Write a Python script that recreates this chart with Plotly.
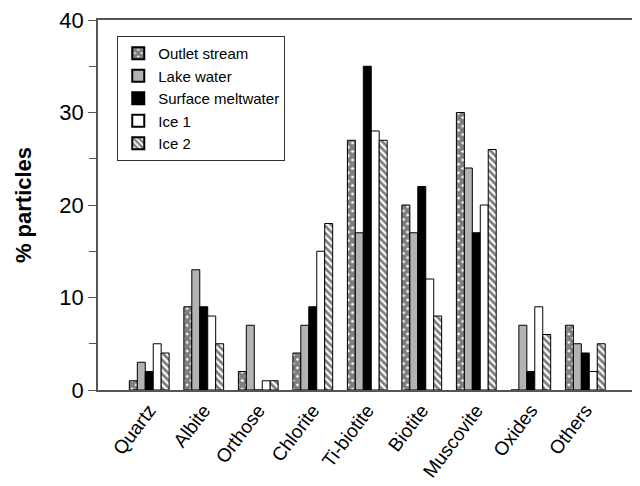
import plotly.graph_objects as go

categories = ["Quartz", "Albite", "Orthose", "Chlorite", "Ti-biotite", "Biotite", "Muscovite", "Oxides", "Others"]
outlet_stream = [1, 9, 2, 4, 27, 20, 30, 0, 7]
lake_water = [3, 13, 7, 7, 17, 17, 24, 7, 5]
surface_meltwater = [2, 9, 0, 9, 35, 22, 17, 2, 4]
ice_1 = [5, 8, 1, 15, 28, 12, 20, 9, 2]
ice_2 = [4, 5, 1, 18, 27, 8, 26, 6, 5]
y_ticks = [0, 10, 20, 30, 40]

FONT = "Arial, Liberation Sans, sans-serif"
line = dict(color="black", width=1)

fig = go.Figure()
fig.add_trace(go.Bar(x=categories, y=outlet_stream, name="Outlet stream",
                     marker=dict(color="white", line=line,
                                 pattern=dict(shape="x", fgcolor="black", bgcolor="white",
                                              size=6, solidity=0.85, fillmode="overlay"))))
fig.add_trace(go.Bar(x=categories, y=lake_water, name="Lake water",
                     marker=dict(color="#b3b3b3", line=line)))
fig.add_trace(go.Bar(x=categories, y=surface_meltwater, name="Surface meltwater",
                     marker=dict(color="black", line=line)))
fig.add_trace(go.Bar(x=categories, y=ice_1, name="Ice 1",
                     marker=dict(color="white", line=line)))
fig.add_trace(go.Bar(x=categories, y=ice_2, name="Ice 2",
                     marker=dict(color="white", line=line,
                                 pattern=dict(shape="\\", fgcolor="black", bgcolor="white",
                                              size=5, solidity=0.55, fillmode="overlay"))))

fig.update_layout(
    width=640, height=486,
    margin=dict(l=90, r=0, t=12, b=104, autoexpand=False),
    paper_bgcolor="white", plot_bgcolor="white",
    barmode="group", bargap=0.27, bargroupgap=0,
    font=dict(family=FONT, color="black"),
    showlegend=True,
    legend=dict(x=0.035, y=0.957, xanchor="left", yanchor="top",
                bordercolor="#333333", borderwidth=1, bgcolor="white",
                font=dict(size=15, family=FONT), tracegroupgap=0,
                itemsizing="constant"),
    xaxis=dict(range=[-0.94, 9.15], showline=True, linecolor="#555555", linewidth=1.5,
               mirror="all", ticks="", tickangle=-53, tickfont=dict(size=19, family=FONT),
               showgrid=False, zeroline=False, automargin=False, ticklabeloverflow="allow"),
    yaxis=dict(range=[0, 40], tickvals=y_ticks, showline=True, linecolor="#555555",
               linewidth=1.5, ticks="outside", ticklen=8, tickcolor="#555555",
               tickfont=dict(size=22, family=FONT), showgrid=False, zeroline=False,
               automargin=False, ticklabeloverflow="allow",
               minor=dict(dtick=5, ticks="outside", ticklen=7, tickcolor="#555555"),
               title=dict(text="<b>% particles</b>", font=dict(size=22, family=FONT), standoff=22)),
)

fig.write_html("out.html")
